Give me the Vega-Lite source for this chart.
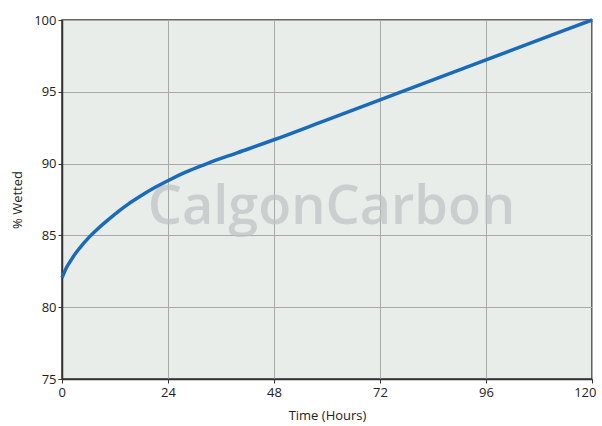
{
  "$schema": "https://vega.github.io/schema/vega-lite/v6.json",
  "width": 530,
  "height": 359,
  "padding": {"left": 62, "top": 20, "right": 10, "bottom": 47},
  "autosize": {"type": "none"},
  "background": "white",
  "config": {
    "view": {"fill": "#e9edea", "stroke": "#333333", "strokeWidth": 1.5},
    "font": "Open Sans"
  },
  "datasets": {
    "curve": [
      {"t": 0, "w": 82.05}, {"t": 1, "w": 82.75}, {"t": 2, "w": 83.25}, {"t": 3, "w": 83.72},
      {"t": 4, "w": 84.12}, {"t": 6, "w": 84.83}, {"t": 8, "w": 85.43}, {"t": 10.5, "w": 86.1},
      {"t": 13, "w": 86.73}, {"t": 15, "w": 87.18}, {"t": 17.7, "w": 87.72}, {"t": 21, "w": 88.33},
      {"t": 24.3, "w": 88.86}, {"t": 28, "w": 89.4}, {"t": 32, "w": 89.9}, {"t": 36, "w": 90.36},
      {"t": 42, "w": 91.0}, {"t": 48, "w": 91.66}, {"t": 60, "w": 93.05}, {"t": 72, "w": 94.44},
      {"t": 84, "w": 95.83}, {"t": 96, "w": 97.22}, {"t": 108, "w": 98.61}, {"t": 120, "w": 100}
    ],
    "mark": [{"t": 61, "w": 86.9, "label": "CalgonCarbon"}]
  },
  "encoding": {
    "x": {"field": "t", "type": "quantitative", "scale": {"domain": [0, 120], "nice": false},
      "axis": {"title": "Time (Hours)", "values": [0, 24, 48, 72, 96, 120], "grid": true, "gridColor": "#a9a9a9", "gridWidth": 1,
        "domainColor": "#333333", "domainWidth": 1.5, "tickColor": "#333333", "tickSize": 4, "labelFlush": true, "labelFlushOffset": 4,
        "labelFontSize": 13, "labelColor": "#222222", "labelPadding": 3, "titleFontSize": 13, "titleFontWeight": "normal", "titleColor": "#222222", "titlePadding": 10}},
    "y": {"field": "w", "type": "quantitative", "scale": {"domain": [75, 100], "nice": false, "zero": false},
      "axis": {"title": "% Wetted", "values": [75, 80, 85, 90, 95, 100], "grid": true, "gridColor": "#a9a9a9", "gridWidth": 1,
        "domainColor": "#333333", "domainWidth": 1.5, "tickColor": "#333333", "tickSize": 4, "labelFlush": false,
        "labelFontSize": 13, "labelColor": "#222222", "labelPadding": 2, "titleFontSize": 13, "titleFontWeight": "normal", "titleColor": "#222222", "titlePadding": 9}}
  },
  "layer": [
    {
      "data": {"name": "mark"},
      "mark": {"type": "text", "fontSize": 54, "fontWeight": 600, "font": "Open Sans", "color": "#bfc2c4", "opacity": 0.7, "align": "center", "baseline": "middle", "letterSpacing": -3},
      "encoding": {"text": {"field": "label"}}
    },
    {
      "data": {"name": "curve"},
      "mark": {"type": "line", "color": "#1a6ab8", "strokeWidth": 3.5, "interpolate": "monotone"}
    }
  ]
}
